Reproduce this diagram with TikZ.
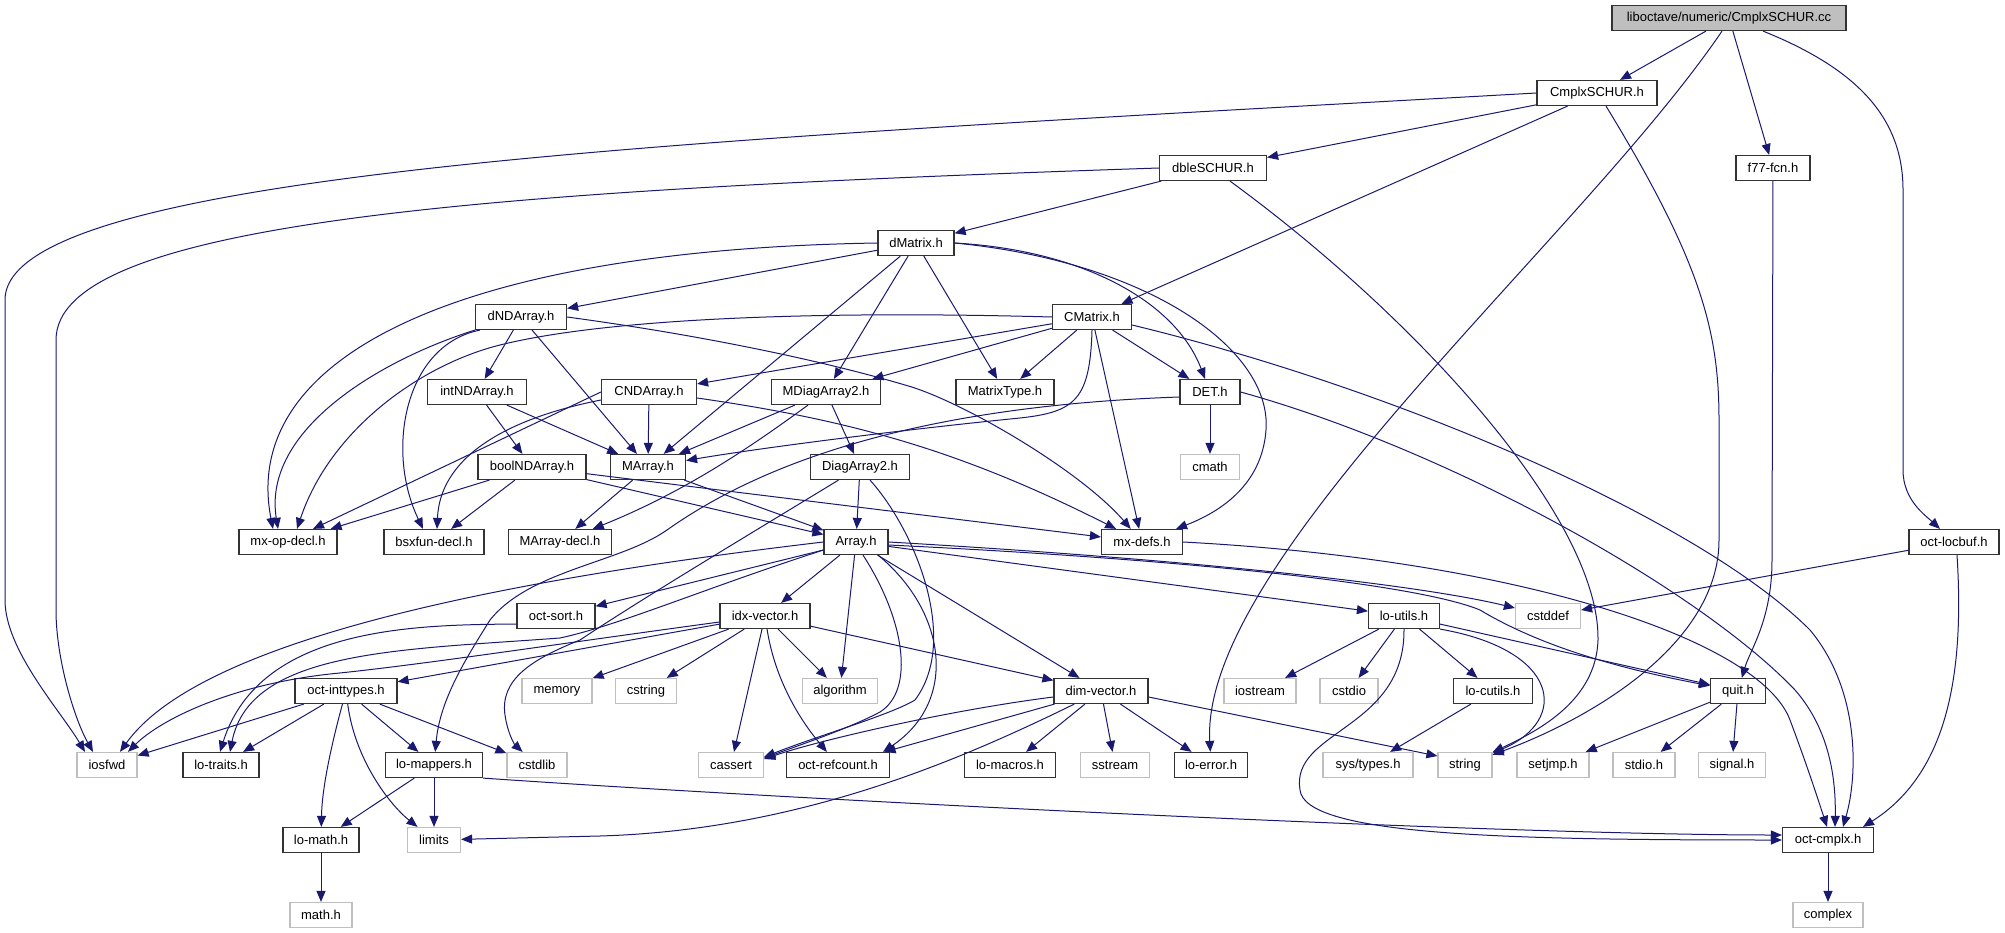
\documentclass[tikz,border=0pt]{standalone}
\usepackage{fontspec}
\newfontfamily\doxyfont{Liberation Sans}
\usepackage{xcolor}
\usepackage{tikz}
\usetikzlibrary{
  arrows.meta,
  calc}
\definecolor{incblue}{HTML}{191970}
\definecolor{sysgrey}{HTML}{BFBFBF}
\tikzset{hdr/.style={draw=black!80, line width=1.2pt, fill=white, minimum height=25pt, inner sep=0pt, font=\doxyfont\fontsize{13}{15}\selectfont},
         syshdr/.style={hdr, draw=sysgrey},
         srcfile/.style={hdr, fill=sysgrey},
         inc/.style={draw=incblue, line width=1pt, -{Triangle[length=11pt,width=9pt]}}
        }

\begin{document}
\begin{tikzpicture}[x=1pt, y=-1pt]

\useasboundingbox (0,0) rectangle (2005,933);

%files, row by row
\node[srcfile, minimum width=234] (root) at (1729,18) {liboctave/numeric/CmplxSCHUR.cc};
\node[hdr, minimum width=120] (cmplxschur) at (1597,93) {CmplxSCHUR.h};
\node[hdr, minimum width=107] (dbleschur) at (1213,168) {dbleSCHUR.h};
\node[hdr, minimum width=74] (f77fcn) at (1773,168) {f77-fcn.h};
\node[hdr, minimum width=76] (dmatrix) at (916,243) {dMatrix.h};
\node[hdr, minimum width=91] (dndarray) at (521,317) {dNDArray.h};
\node[hdr, minimum width=79] (cmatrix) at (1092,317) {CMatrix.h};

\node[hdr, minimum width=99] (intnd) at (477,392) {intNDArray.h};
\node[hdr, minimum width=95] (cnd) at (649,392) {CNDArray.h};
\node[hdr, minimum width=109] (mdiag) at (826,392) {MDiagArray2.h};
\node[hdr, minimum width=98] (mtype) at (1005,392) {MatrixType.h};
\node[hdr, minimum width=60] (det) at (1210,392) {DET.h};

\node[hdr, minimum width=108] (boolnd) at (532,467) {boolNDArray.h};
\node[hdr, minimum width=75] (marray) at (648,467) {MArray.h};
\node[hdr, minimum width=99] (diag) at (860,467) {DiagArray2.h};
\node[syshdr, minimum width=59] (cmath) at (1210,467) {cmath};

\node[hdr, minimum width=98] (mxop) at (288,542) {mx-op-decl.h};
\node[hdr, minimum width=100] (bsxfun) at (434,542) {bsxfun-decl.h};
\node[hdr, minimum width=103] (marraydecl) at (560,542) {MArray-decl.h};
\node[hdr, minimum width=64] (array) at (856,542) {Array.h};
\node[hdr, minimum width=81] (mxdefs) at (1142,542) {mx-defs.h};
\node[hdr, minimum width=90] (locbuf) at (1954,542) {oct-locbuf.h};

\node[hdr, minimum width=78] (octsort) at (556,616) {oct-sort.h};
\node[hdr, minimum width=90] (idxvec) at (765,616) {idx-vector.h};
\node[hdr, minimum width=71] (loutils) at (1404,616) {lo-utils.h};
\node[syshdr, minimum width=65] (cstddef) at (1548,616) {cstddef};

\node[hdr, minimum width=102] (inttypes) at (346,691) {oct-inttypes.h};
\node[syshdr, minimum width=70] (memory) at (557,691) {memory};
\node[syshdr, minimum width=61] (cstring) at (646,691) {cstring};
\node[syshdr, minimum width=75] (algorithm) at (840,691) {algorithm};
\node[hdr, minimum width=94] (dimvec) at (1101,691) {dim-vector.h};
\node[syshdr, minimum width=72] (iostream) at (1260,691) {iostream};
\node[syshdr, minimum width=58] (cstdio) at (1349,691) {cstdio};
\node[hdr, minimum width=79] (locutils) at (1493,691) {lo-cutils.h};
\node[hdr, minimum width=55] (quit) at (1738,691) {quit.h};

\node[syshdr, minimum width=60] (iosfwd) at (107,765) {iosfwd};
\node[hdr, minimum width=76] (lotraits) at (221,765) {lo-traits.h};
\node[hdr, minimum width=97] (lomappers) at (434,765) {lo-mappers.h};
\node[syshdr, minimum width=60] (cstdlib) at (537,765) {cstdlib};
\node[syshdr, minimum width=65] (cassert) at (731,765) {cassert};
\node[hdr, minimum width=103] (refcount) at (838,765) {oct-refcount.h};
\node[hdr, minimum width=91] (lomacros) at (1010,765) {lo-macros.h};
\node[syshdr, minimum width=69] (sstream) at (1115,765) {sstream};
\node[hdr, minimum width=73] (loerror) at (1211,765) {lo-error.h};
\node[syshdr, minimum width=90] (systypes) at (1368,765) {sys/types.h};
\node[syshdr, minimum width=54] (string) at (1465,765) {string};
\node[syshdr, minimum width=72] (setjmp) at (1553,765) {setjmp.h};
\node[syshdr, minimum width=62] (stdio) at (1644,765) {stdio.h};
\node[syshdr, minimum width=67] (signal) at (1732,765) {signal.h};

\node[hdr, minimum width=76] (lomath) at (321,840) {lo-math.h};
\node[syshdr, minimum width=53] (limits) at (434,840) {limits};
\node[hdr, minimum width=91] (cmplx) at (1828,840) {oct-cmplx.h};

\node[syshdr, minimum width=62] (mathh) at (321,915) {math.h};
\node[syshdr, minimum width=70] (complex) at (1828,915) {complex};


%CmplxSCHUR.cc
\draw[inc] (root) -- (cmplxschur);
\draw[inc] ([xshift=-7]root.south) .. controls (1580,240) and (1200,560) .. (loerror);
\draw[inc] (root) -- (f77fcn);
\draw[inc] ([xshift=34]root.south) .. controls (1860,70) and (1903,120) .. (1903,190) -- (1903,470) .. controls (1903,500) and (1925,515) .. (locbuf);

%CmplxSCHUR.h
\draw[inc] (cmplxschur.west) .. controls (700,140) and (5,170) .. (5,300) -- (5,600) .. controls (5,650) and (60,710) .. ([xshift=-22]iosfwd.north);
\draw[inc] (cmplxschur) -- (dbleschur);
\draw[inc] (cmplxschur) -- (cmatrix);
\draw[inc] ([xshift=9]cmplxschur.south) .. controls (1700,260) and (1719,330) .. (1719,420) -- (1719,540) .. controls (1719,640) and (1600,715) .. (string);

%dbleSCHUR.h
\draw[inc] (dbleschur.west) .. controls (500,190) and (56,220) .. (56,340) -- (56,610) .. controls (56,660) and (75,720) .. ([xshift=-14]iosfwd.north);
\draw[inc] (dbleschur) -- (dmatrix);
\draw[inc] ([xshift=17]dbleschur.south) .. controls (1420,320) and (1600,520) .. (1598,640) .. controls (1596,700) and (1540,730) .. (string);

\draw[inc] (f77fcn) -- (1772,560) .. controls (1772,620) and (1750,650) .. (quit);

\draw[inc] (locbuf) -- (cstddef);
\draw[inc] ([xshift=3]locbuf.south) .. controls (1965,680) and (1945,775) .. ([xshift=35]cmplx.north);

%dMatrix.h
\draw[inc] (dmatrix) -- (dndarray);
\draw[inc] (dmatrix.west) .. controls (450,250) and (240,360) .. ([xshift=-15]mxop.north);
\draw[inc] (dmatrix) -- (marray);
\draw[inc] (dmatrix) -- (mdiag);
\draw[inc] (dmatrix) -- (mtype);
\draw[inc] (dmatrix.east) .. controls (1080,250) and (1175,300) .. (det);
\draw[inc] (dmatrix.east) .. controls (1150,262) and (1272,350) .. (1266,430) .. controls (1262,485) and (1220,512) .. (mxdefs);

%dNDArray.h
\draw[inc] (dndarray) -- (intnd);
\draw[inc] (dndarray) -- (marray);
\draw[inc] (dndarray.south west) .. controls (380,360) and (262,430) .. ([xshift=-10]mxop.north);
\draw[inc] ([xshift=5]dndarray.south west) .. controls (405,345) and (385,450) .. ([xshift=-11]bsxfun.north);
\draw[inc] (dndarray.east) .. controls (700,335) and (820,360) .. (905,385) .. controls (960,400) and (1080,470) .. (mxdefs);

\draw[inc] (intnd) -- (marray);
\draw[inc] (intnd) -- (boolnd);

%CMatrix.h
\draw[inc] (cmatrix.west) .. controls (800,310) and (600,320) .. (500,345) .. controls (420,365) and (330,430) .. ([xshift=9]mxop.north);
\draw[inc] (cmatrix) -- (cnd);
\draw[inc] (cmatrix) -- (mdiag);
\draw[inc] (cmatrix) -- (mtype);
\draw[inc] (cmatrix) -- (det);
\draw[inc] (cmatrix) -- (mxdefs);
\draw[inc] (cmatrix.south) .. controls (1090,400) and (1075,412) .. (1020,418) .. controls (900,430) and (760,448) .. (marray);
\draw[inc] ([yshift=-8]cmatrix.east) .. controls (1400,390) and (1700,520) .. (1810,630) .. controls (1860,690) and (1858,775) .. ([xshift=15]cmplx.north);

%CNDArray.h
\draw[inc] (cnd.west) -- ([xshift=25]mxop.north);
\draw[inc] ([yshift=-8]cnd.west) .. controls (500,420) and (440,460) .. ([xshift=3]bsxfun.north);
\draw[inc] (cnd) -- (marray);
\draw[inc] ([yshift=-6]cnd.east) .. controls (850,420) and (960,450) .. (mxdefs);

\draw[inc] (mdiag) -- (marray);
\draw[inc] (mdiag) .. controls (760,440) and (690,490) .. (marraydecl);
\draw[inc] (mdiag) -- (diag);

%DET.h
\draw[inc] (det) -- (cmath);
\draw[inc] ([yshift=-5]det.west) .. controls (950,405) and (780,450) .. (667,530) .. controls (620,563) and (530,570) .. (490,620) .. controls (465,660) and (440,700) .. (lomappers);
\draw[inc] (det.east) .. controls (1450,450) and (1700,590) .. (1795,690) .. controls (1830,730) and (1836,780) .. ([xshift=7]cmplx.north);

%boolNDArray.h
\draw[inc] (boolnd) -- (mxop);
\draw[inc] (boolnd) -- (bsxfun);
\draw[inc] (boolnd) -- (array);
\draw[inc] (boolnd) -- (mxdefs);

\draw[inc] (marray) -- (marraydecl);
\draw[inc] (marray) -- (array);

%DiagArray2.h
\draw[inc] (diag) -- (array);
\draw[inc] (diag) .. controls (740,540) and (640,600) .. (580,640) .. controls (530,660) and (500,680) .. (505,715) .. controls (508,735) and (515,745) .. (cstdlib);
\draw[inc] ([xshift=10]diag.south) .. controls (915,530) and (960,640) .. (915,700) .. controls (890,715) and (820,735) .. ([yshift=8]cassert.east);

%Array.h
\draw[inc] (array.west) .. controls (500,580) and (200,640) .. ([xshift=13]iosfwd.north);
\draw[inc] (array) -- (octsort);
\draw[inc] ([yshift=-8]array.west) .. controls (700,590) and (620,625) .. (560,638) .. controls (400,650) and (250,650) .. ([xshift=9]lotraits.north);
\draw[inc] (array) -- (idxvec);
\draw[inc] (array) -- (algorithm);
\draw[inc] ([xshift=7]array.south) .. controls (905,620) and (915,690) .. (880,712) .. controls (850,728) and (800,745) .. ([yshift=7]cassert.east);
\draw[inc] ([xshift=22]array.south) .. controls (945,610) and (960,700) .. ([xshift=45]refcount.north);
\draw[inc] (array) -- (dimvec);
\draw[inc] (array) -- (loutils);
\draw[inc] (array.east) .. controls (1200,560) and (1420,585) .. (cstddef);
\draw[inc] ([yshift=-3]array.east) .. controls (1200,560) and (1420,585) .. (1480,610) .. controls (1530,640) and (1600,665) .. (quit);

\draw[inc] ([yshift=-8]octsort.west) .. controls (420,625) and (260,625) .. ([xshift=-1]lotraits.north);

%idx-vector.h
\draw[inc] ([yshift=-6]idxvec.west) .. controls (550,645) and (420,665) .. (330,674) .. controls (230,685) and (160,720) .. ([xshift=21]iosfwd.north);
\draw[inc] (idxvec) -- (inttypes);
\draw[inc] (idxvec) -- (memory);
\draw[inc] (idxvec) -- (cstring);
\draw[inc] (idxvec) -- (algorithm);
\draw[inc] (idxvec) -- (cassert);
\draw[inc] (idxvec) .. controls (775,680) and (800,720) .. (refcount);
\draw[inc] (idxvec) -- (dimvec);

%lo-utils.h
\draw[inc] (loutils) -- (iostream);
\draw[inc] (loutils) -- (cstdio);
\draw[inc] (loutils) -- (locutils);
\draw[inc] (loutils.south east) .. controls (1560,650) and (1570,720) .. (string);
\draw[inc] (loutils) -- (quit);
\draw[inc] (loutils.south) .. controls (1405,730) and (1290,730) .. (1300,790) .. controls (1305,835) and (1500,840) .. (cmplx);

%dim-vector.h
\draw[inc] (dimvec) .. controls (950,710) and (820,740) .. ([yshift=6]cassert.east);
\draw[inc] (dimvec) -- (refcount);
\draw[inc] (dimvec) .. controls (960,760) and (800,830) .. (600,836) -- (limits);
\draw[inc] (dimvec) -- (lomacros);
\draw[inc] (dimvec) -- (sstream);
\draw[inc] (dimvec) -- (loerror);
\draw[inc] ([yshift=-6]dimvec.east) -- ([yshift=9]string.west);

\draw[inc] (locutils) -- (systypes);

\draw[inc] (quit) -- (setjmp);
\draw[inc] (quit) -- (stdio);
\draw[inc] (quit) -- (signal);

%oct-inttypes.h
\draw[inc] (inttypes) -- (iosfwd);
\draw[inc] (inttypes) -- (lotraits);
\draw[inc] (inttypes) .. controls (330,750) and (322,790) .. (lomath);
\draw[inc] (inttypes) .. controls (355,760) and (390,805) .. (limits);
\draw[inc] (inttypes) -- (lomappers);
\draw[inc] (inttypes) -- (cstdlib);

\draw[inc] (lomappers) -- (lomath);
\draw[inc] (lomappers) -- (limits);
\draw[inc] (lomappers.south east) .. controls (800,800) and (1500,835) .. ([yshift=5]cmplx.west);

\draw[inc] (lomath) -- (mathh);
\draw[inc] (cmplx) -- (complex);

%mx-defs.h
\draw[inc] (mxdefs.east) .. controls (1520,560) and (1760,640) .. (1790,720) .. controls (1805,760) and (1815,790) .. ([xshift=-1]cmplx.north);

\end{tikzpicture}
\end{document}
